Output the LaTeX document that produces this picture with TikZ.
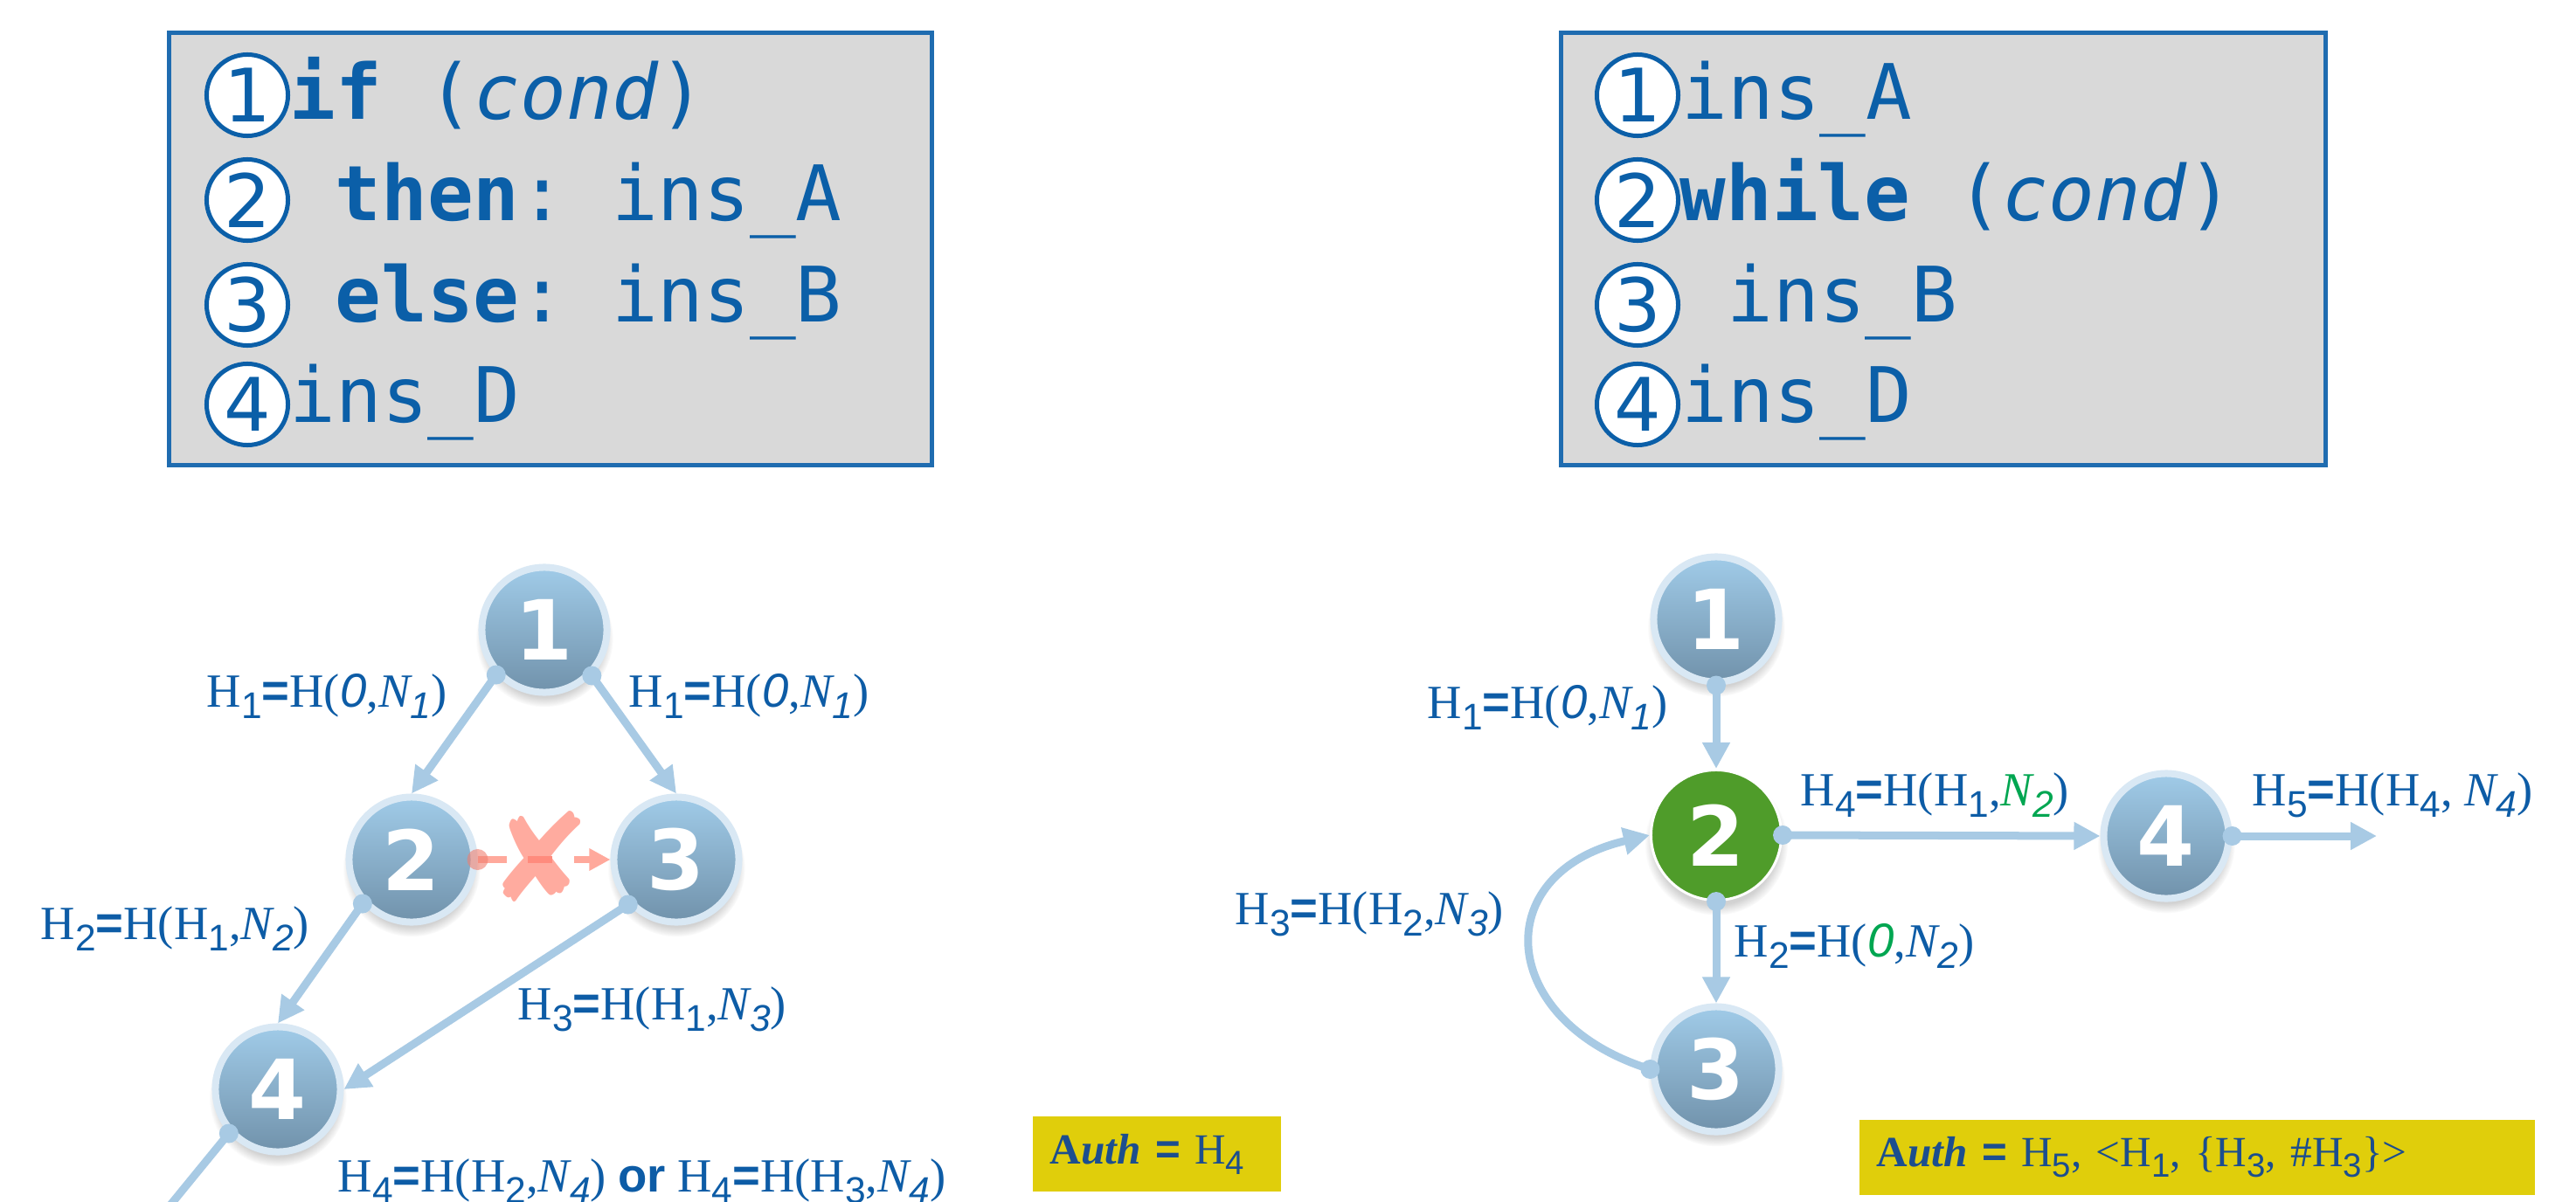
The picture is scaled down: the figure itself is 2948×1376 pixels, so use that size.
\documentclass[tikz,border=0pt]{standalone}
\usepackage{fontspec}
\setmainfont{Liberation Serif}
\setsansfont{Liberation Sans}
\setmonofont{DejaVu Sans Mono}
\newfontfamily\dvs{DejaVu Sans}
\usetikzlibrary{arrows.meta,shadows}
\definecolor{codeblue}{HTML}{0B5FA8}
\definecolor{boxgray}{HTML}{D9D9D9}
\definecolor{boxline}{HTML}{1F6CB0}
\definecolor{labblue}{HTML}{0D5CA6}
\definecolor{lgreen}{HTML}{00A651}
\definecolor{conn}{HTML}{A8CAE4}
\definecolor{ringc}{HTML}{D9E8F4}
\definecolor{ntop}{HTML}{A0CBE8}
\definecolor{nbot}{HTML}{7192AB}
\definecolor{ngreen}{HTML}{4F9C2A}
\definecolor{xcol}{HTML}{FFAB9F}
\definecolor{xline}{HTML}{FFA99C}
\definecolor{xband}{HTML}{FF8B7D}
\definecolor{salmon}{HTML}{F07F70}
\definecolor{ybg}{HTML}{E0CE0B}
\definecolor{ytext}{HTML}{1C4E8E}
\newcommand{\sbs}[1]{\raisebox{-0.24em}{\scalebox{0.78}{\sffamily #1}}}
\newcommand{\Hs}[1]{H\sbs{#1}}
\newcommand{\Ns}[1]{\textit{N\sbs{\itshape #1}}}
\newcommand{\zr}{{\sffamily\itshape 0}}
\newcommand{\eqs}{{\sffamily\bfseries =}}
\begin{document}
\begin{tikzpicture}[x=0.01cm,y=-0.01cm,
  codebox/.style={draw=boxline, fill=boxgray, line width=0.05cm, inner sep=0},
  cnum/.style={circle, draw=codeblue, fill=white, line width=0.05cm, minimum size=0.93cm, inner sep=0, text=codeblue, font=\dvs\fontsize{24pt}{24pt}\selectfont},
  cline/.style={anchor=base west, inner sep=0, text=codeblue, font=\ttfamily\fontsize{24.9pt}{28pt}\selectfont},
  bnode/.style={circle, minimum size=1.43cm, inner sep=0, line width=0.08cm, draw=ringc, top color=ntop, bottom color=nbot, text=white, font=\dvs\bfseries\fontsize{27pt}{27pt}\selectfont, circular drop shadow={shadow xshift=0pt, shadow yshift=-2.5pt, opacity=0.35}},
  gnode/.style={circle, minimum size=1.49cm, inner sep=0, line width=0.03cm, draw=white, fill=ngreen, text=white, font=\dvs\bfseries\fontsize{27pt}{27pt}\selectfont, circular drop shadow={shadow xshift=0pt, shadow yshift=-2.5pt, opacity=0.35}},
  lab/.style={anchor=west, inner sep=0, text=labblue, font=\fontsize{15.5pt}{18pt}\selectfont},
  arr/.style={draw=conn, line width=0.09cm, -{Triangle[length=0.3cm,width=0.3cm]}},
  hdot/.style={fill=conn},
  ybox/.style={fill=ybg, anchor=west, minimum height=0.85cm, inner xsep=0.2cm, align=left, text=ytext, font=\fontsize{14pt}{16pt}\selectfont}
]
\useasboundingbox (0,0) rectangle (2948,1376);
\clip (0,0) rectangle (2948,1376);
\fill[white] (0,0) rectangle (2948,1376);

% ---------- left code box ----------
\node[codebox, minimum width=8.72cm, minimum height=4.94cm] (boxL) at (630,285) {};
\node[cnum] (cL1) at (283,109) {1};
\node[cnum] (cL2) at (283,229) {2};
\node[cnum] (cL3) at (283,349) {3};
\node[cnum] (cL4) at (283,463) {4};
\node[cline] (tL1) at (331,137) {\textbf{if} (\textit{cond})};
\node[cline] (tL2) at (383,253) {\textbf{then}: ins\_A};
\node[cline] (tL3) at (383,368) {\textbf{else}: ins\_B};
\node[cline] (tL4) at (331,483) {ins\_D};

% ---------- right code box ----------
\node[codebox, minimum width=8.74cm, minimum height=4.94cm] (boxR) at (2224,285) {};
\node[cnum] (cR1) at (1874,109) {1};
\node[cnum] (cR2) at (1874,229) {2};
\node[cnum] (cR3) at (1874,349) {3};
\node[cnum] (cR4) at (1874,463) {4};
\node[cline] (tR1) at (1924,137) {ins\_A};
\node[cline] (tR2) at (1922,253) {\textbf{while} (\textit{cond})};
\node[cline] (tR3) at (1976,368) {ins\_B};
\node[cline] (tR4) at (1924,483) {ins\_D};

% ---------- left graph ----------
\node[bnode] (L1) at (623,721) {1};
\node[bnode] (L2) at (471,984) {2};
\node[bnode] (L3) at (774,984) {3};
\node[bnode] (L4) at (318,1247) {4};
\coordinate (Lout) at (170,1410);

\draw[arr] (L1.223) -- (L2.north);
\draw[arr] (L1.316) -- (L3.north);
\draw[arr] (L2.222) -- (L4.north);
\draw[arr] (L3.223) -- (L4.east);
\draw[draw=conn, line width=0.09cm] (L4.222) -- (Lout);
\foreach \p in {L1.223,L1.316,L2.222,L3.223,L4.222}
  \fill[hdot] (\p) circle[radius=0.11cm];

% blocked edge 2 -> 3
\coordinate (xa) at (580,984);
\coordinate (xb) at (657,984);
\draw[xline, line width=0.08cm] (L2.east) -- (xa);
\draw[xline, line width=0.08cm, -{Triangle[length=0.24cm,width=0.24cm]}] (xb) -- (L3.west);
\node[text=xcol, inner sep=0, font=\dvs\fontsize{40pt}{40pt}\selectfont] (X) at (617,980) {✘};
\draw[xband, line width=0.08cm] (604,984) -- (632,984);
\fill[salmon, opacity=0.6] (L2.east) circle[radius=0.12cm];

\node[lab] (lb1a) at (236,797) {\Hs{1}\eqs H(\zr,\Ns{1})};
\node[lab] (lb1b) at (719,797) {\Hs{1}\eqs H(\zr,\Ns{1})};
\node[lab] (lb2) at (46,1063) {\Hs{2}\eqs H(\Hs{1},\Ns{2})};
\node[lab] (lb3) at (592,1155) {\Hs{3}\eqs H(\Hs{1},\Ns{3})};
\node[lab] (lb4) at (386,1352) {\Hs{4}\eqs H(\Hs{2},\Ns{4}) {\sffamily\bfseries or} \Hs{4}\eqs H(\Hs{3},\Ns{4})};

% ---------- right graph ----------
\node[bnode] (R1) at (1964,709) {1};
\node[gnode] (R2) at (1964,956) {2};
\node[bnode] (R4) at (2479,957) {4};
\node[bnode] (R3) at (1964,1224) {3};
\coordinate (Rout) at (2720,957);

\draw[arr] (R1.south) -- (R2.north);
\draw[arr] (R2.east) -- (R4.west);
\draw[arr] (R4.east) -- (Rout);
\draw[arr] (R2.south) -- (R3.north);
\draw[arr] (R3.west) .. controls (1715,1170) and (1700,1000) .. (R2.west);
\foreach \p in {R1.south,R2.east,R4.east,R2.south,R3.west}
  \fill[hdot] (\p) circle[radius=0.11cm];

\node[lab] (lr1) at (1633,810) {\Hs{1}\eqs H(\zr,\Ns{1})};
\node[lab] (lr4) at (2060,910) {\Hs{4}\eqs H(\Hs{1},\textcolor{lgreen}{\Ns{2}})};
\node[lab] (lr5) at (2577,910) {\Hs{5}\eqs H(\Hs{4}, \Ns{4})};
\node[lab] (lr3) at (1413,1046) {\Hs{3}\eqs H(\Hs{2},\Ns{3})};
\node[lab] (lr2) at (1984,1083) {\Hs{2}\eqs H(\textcolor{lgreen}{\zr},\Ns{2})};

% ---------- Auth boxes ----------
\node[ybox, minimum width=2.84cm, text width=2.44cm] (auth1) at (1181,1321) {\textbf{A\textit{uth}} \eqs{} \Hs{4}};
\node[ybox, minimum width=7.73cm, text width=7.33cm] (auth2) at (2127,1325) {\textbf{A\textit{uth}} \eqs{} \Hs{5}, <\Hs{1}, \{\Hs{3}, \#\Hs{3}\}>};
\end{tikzpicture}
\end{document}
